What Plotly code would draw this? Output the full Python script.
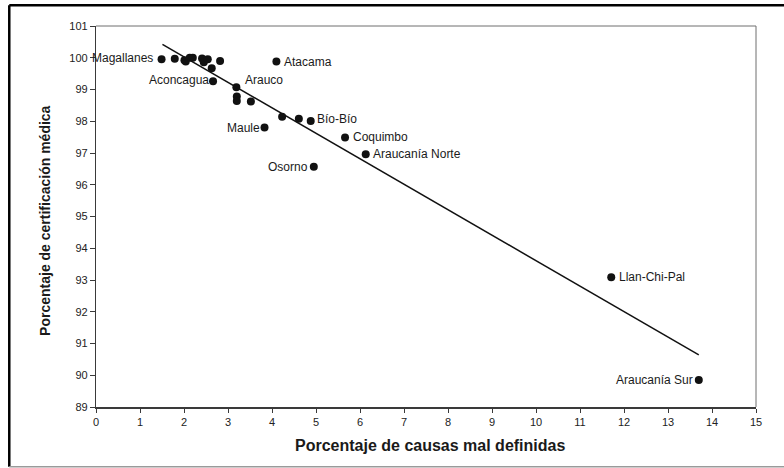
import plotly.graph_objects as go

# ---- data ----
x_causas = [1.49, 1.79, 2.01, 2.04, 2.13, 2.20, 2.41, 2.45, 2.54, 2.63, 2.66, 2.82,
            3.19, 3.20, 3.20, 3.52, 3.83, 4.10, 4.23, 4.61, 4.88, 4.95, 5.66, 6.13,
            11.71, 13.70]
y_certif = [99.95, 99.97, 99.92, 99.88, 100.00, 100.00, 99.98, 99.86, 99.95, 99.67,
            99.26, 99.90, 99.07, 98.78, 98.64, 98.62, 97.80, 99.88, 98.14, 98.08,
            98.01, 96.57, 97.49, 96.96, 93.09, 89.85]
point_names = ["Magallanes", "", "", "", "", "", "", "", "", "", "Aconcagua", "",
               "Arauco", "", "", "", "Maule", "Atacama", "", "", "Bío-Bío", "Osorno",
               "Coquimbo", "Araucanía Norte", "Llan-Chi-Pal", "Araucanía Sur"]
trend_x = [1.51, 13.70]
trend_y = [100.42, 90.64]
x_ticks = list(range(0, 16))
y_ticks = list(range(89, 102))

# ---- label placement (style) ----
label_place = {
    "Magallanes": ("left", 7, 1),
    "Aconcagua": ("left", 2, 1),
    "Arauco": ("right", 7, 7),
    "Atacama": ("right", 6, 0),
    "Maule": ("left", 3, 0),
    "Bío-Bío": ("right", 4, 2),
    "Osorno": ("left", 4, 0),
    "Coquimbo": ("right", 6, 0),
    "Araucanía Norte": ("right", 5, 0),
    "Llan-Chi-Pal": ("right", 6, 0),
    "Araucanía Sur": ("left", 4, 0),
}

FONT = "Liberation Sans, Arial, sans-serif"

fig = go.Figure()
fig.add_trace(go.Scatter(x=trend_x, y=trend_y, mode="lines",
                         line=dict(color="#111111", width=1.5),
                         hoverinfo="skip", showlegend=False))
fig.add_trace(go.Scatter(x=x_causas, y=y_certif, mode="markers",
                         marker=dict(color="#111111", size=8),
                         text=point_names, showlegend=False))

annotations = []
for xv, yv, nm in zip(x_causas, y_certif, point_names):
    if not nm:
        continue
    side, dx, dy = label_place[nm]
    annotations.append(dict(
        x=xv, y=yv, xref="x", yref="y", text=nm, showarrow=False,
        xanchor="right" if side == "left" else "left", yanchor="middle",
        xshift=-dx if side == "left" else dx, yshift=dy,
        font=dict(family=FONT, size=12, color="#1a1a1a")))

# axis titles
annotations.append(dict(x=0.506, y=-0.1016, xref="paper", yref="paper",
                        text="<b>Porcentaje de causas mal definidas</b>", showarrow=False,
                        xanchor="center", yanchor="middle",
                        font=dict(family=FONT, size=16, color="#1a1a1a")))
annotations.append(dict(x=-0.0773, y=0.491, xref="paper", yref="paper",
                        text="<b>Porcentaje de certificación médica</b>", showarrow=False,
                        textangle=-90, xanchor="center", yanchor="middle",
                        font=dict(family=FONT, size=14, color="#1a1a1a")))

shapes = [
    # plot area top/right border (thin grey)
    dict(type="line", xref="paper", yref="paper", x0=0, x1=1, y0=1, y1=1,
         line=dict(color="#6e6e6e", width=1)),
    dict(type="line", xref="paper", yref="paper", x0=1, x1=1, y0=0, y1=1,
         line=dict(color="#6e6e6e", width=1)),
    # outer frame
    dict(type="line", xref="paper", yref="paper", x0=-0.1314, x1=1.06, y0=1.0543, y1=1.0543,
         line=dict(color="#000000", width=2.5)),
    dict(type="line", xref="paper", yref="paper", x0=-0.1314, x1=-0.1314, y0=-0.1567, y1=1.0543,
         line=dict(color="#000000", width=2.5)),
    dict(type="line", xref="paper", yref="paper", x0=-0.1314, x1=1.06, y0=-0.1567, y1=-0.1567,
         line=dict(color="#9a9a9a", width=1.5)),
]

fig.update_layout(
    width=784, height=468,
    margin=dict(l=96, r=28, t=26, b=61),
    paper_bgcolor="white", plot_bgcolor="white",
    font=dict(family=FONT, size=11, color="#222222"),
    annotations=annotations, shapes=shapes,
    xaxis=dict(range=[0, 15], tickvals=x_ticks, showgrid=False, zeroline=False,
               showline=True, linecolor="#3a3a3a", linewidth=2,
               ticks="outside", ticklen=4, tickcolor="#3a3a3a", tickwidth=1,
               tickfont=dict(family=FONT, size=11, color="#222222")),
    yaxis=dict(range=[89, 101], tickvals=y_ticks, showgrid=False, zeroline=False,
               showline=True, linecolor="#3a3a3a", linewidth=1.2,
               ticks="outside", ticklen=5, tickcolor="#3a3a3a", tickwidth=1,
               tickfont=dict(family=FONT, size=11, color="#222222")),
)

fig.write_html("out.html", config={"displayModeBar": False},
               post_script="document.body.style.margin='0';document.body.style.overflow='hidden';")
